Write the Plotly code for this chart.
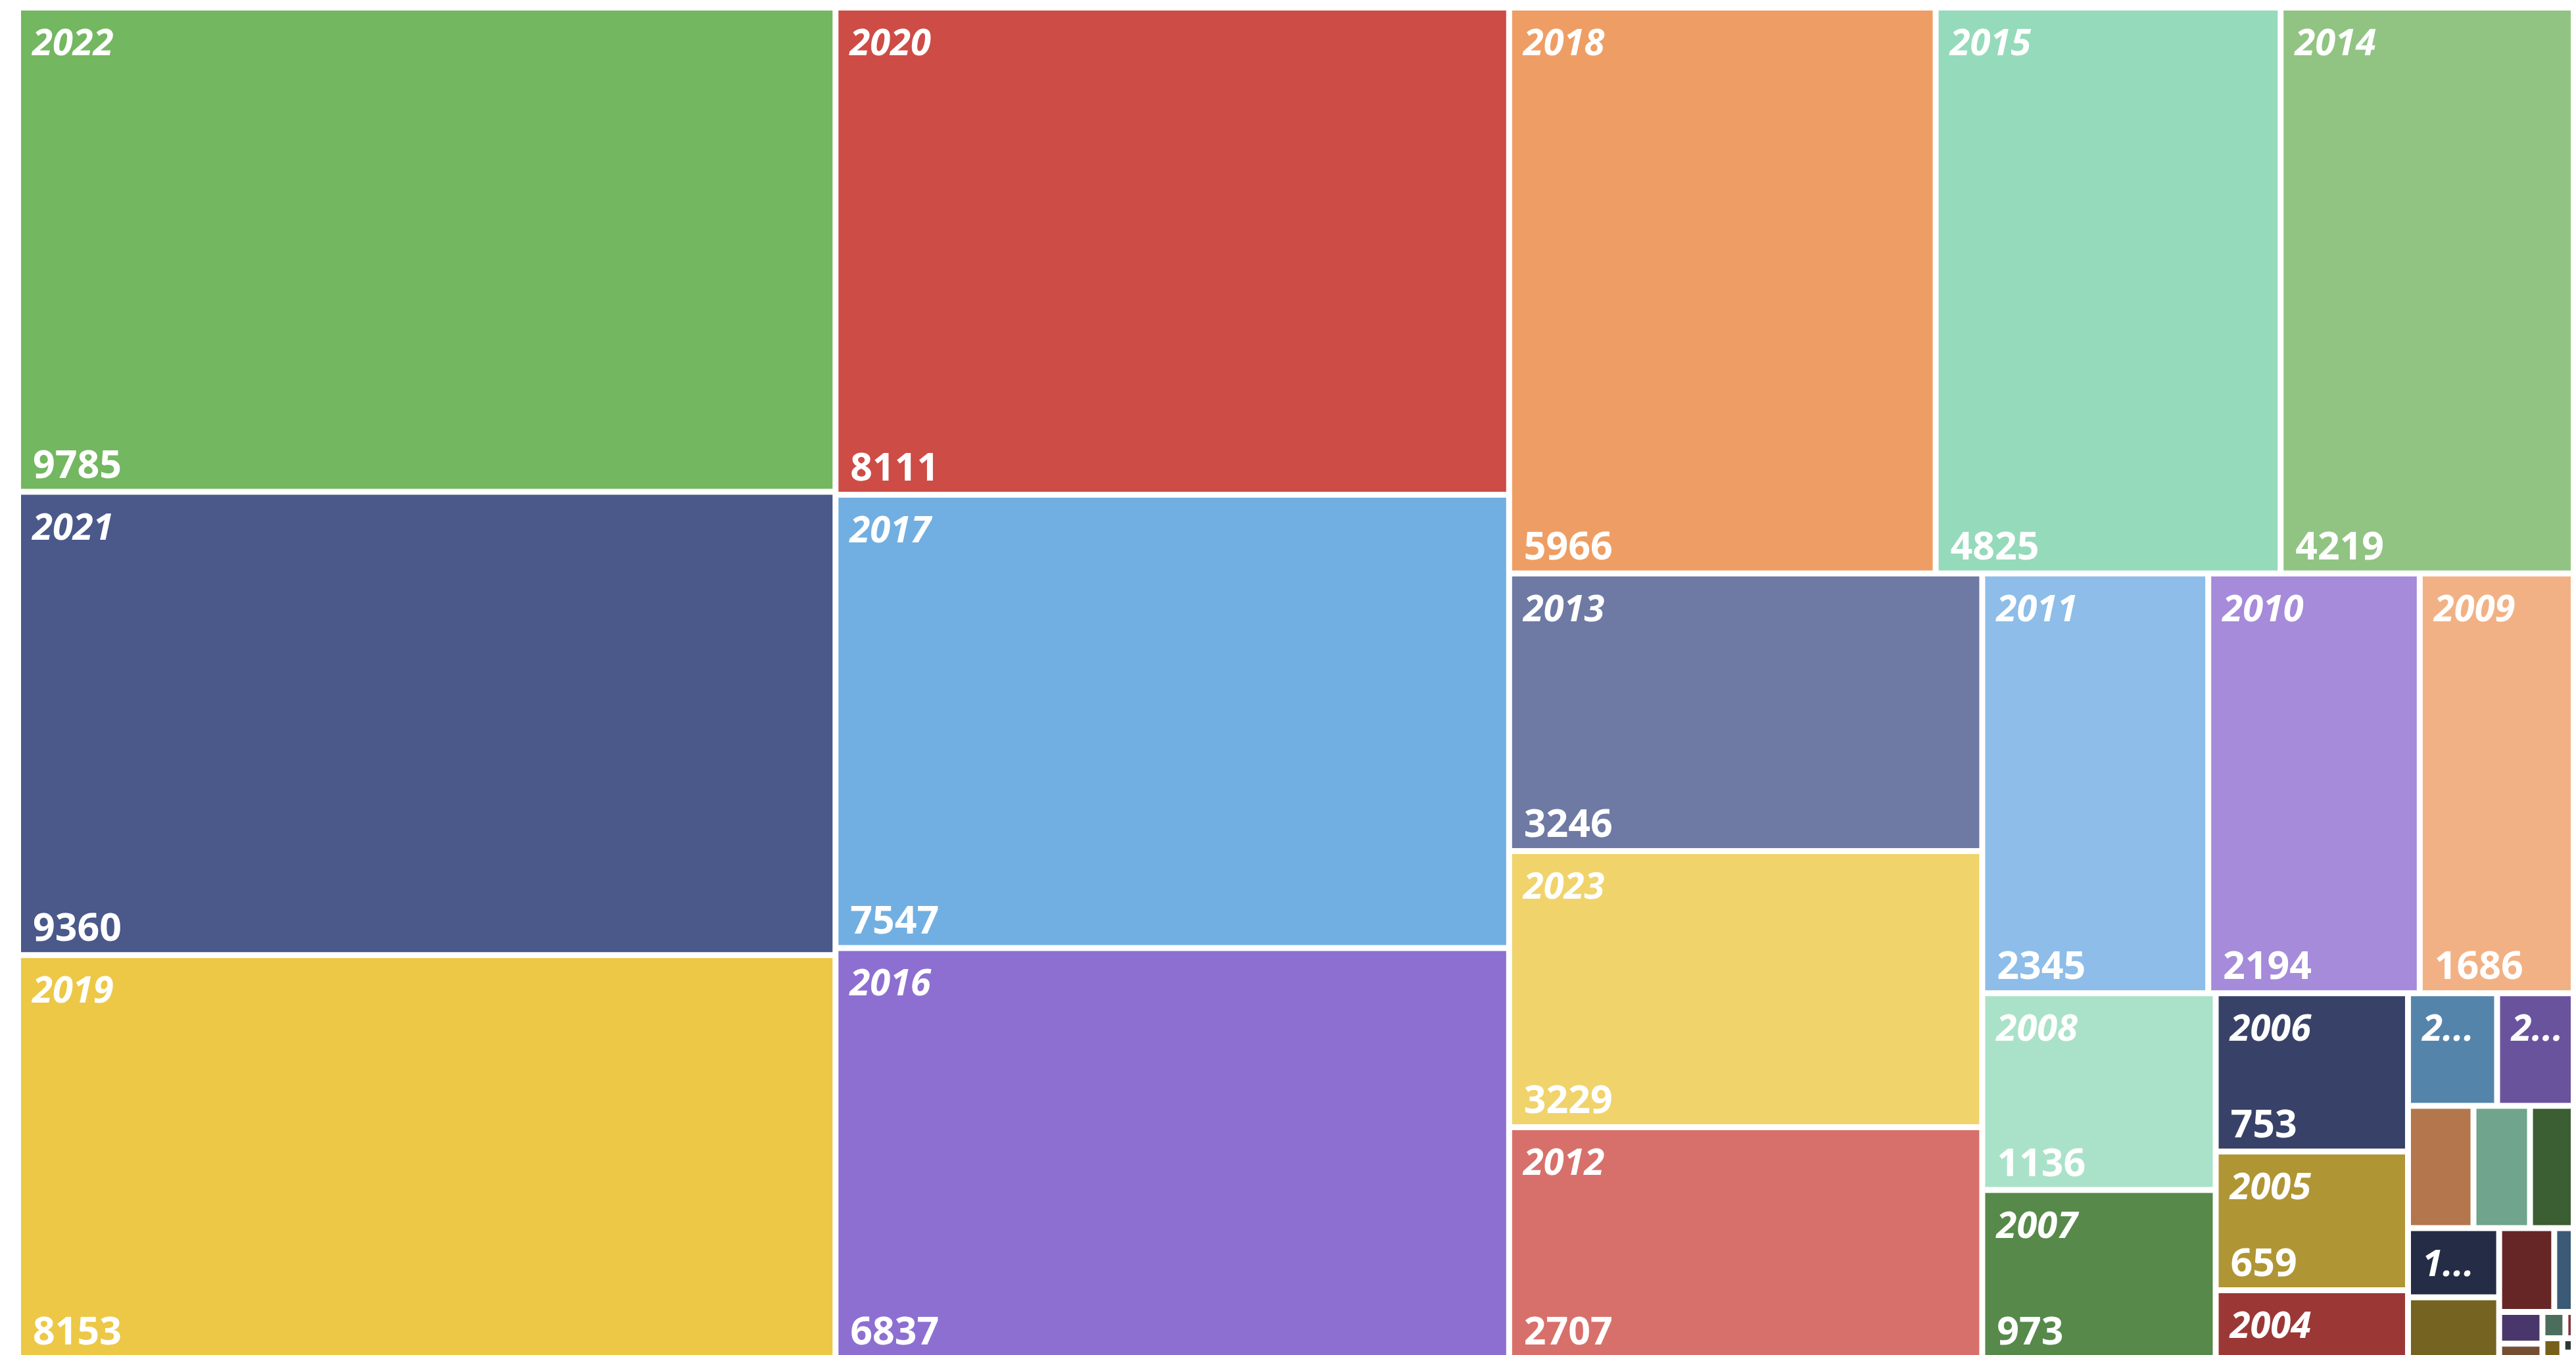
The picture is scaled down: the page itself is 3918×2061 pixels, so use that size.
import plotly.graph_objects as go

years = ["2022", "2021", "2019", "2020", "2017", "2016", "2018", "2015", "2014",
         "2013", "2023", "2012", "2011", "2010", "2009", "2008", "2007", "2006",
         "2005", "2004", "2003", "2002", "2001", "2000", "1999", "1998", "1997",
         "1996", "1995", "1994", "1993", "1992", "1991", "1990", "1989", "1988", "1987"]
values = [9785, 9360, 8153, 8111, 7547, 6837, 5966, 4825, 4219,
          3246, 3229, 2707, 2345, 2194, 1686, 1136, 973, 753,
          659, 325, 248, 237, 198, 171, 158, 156, 138,
          114, 58, 34, 16, 15, 11, 10, 7, 2, 1]
colors = ["#73B761", "#4A588A", "#ECC846", "#CD4C46", "#71AFE2", "#8D6FD1", "#EE9E64", "#95DABB", "#91C483",
          "#6E7AA3", "#F0D36B", "#D7706B", "#8DBDE8", "#A58BD9", "#F2B184", "#AAE2C9", "#56894A", "#384268",
          "#B09535", "#9B3836", "#5584AB", "#6A539D", "#B4764C", "#70A48C", "#3B5E33", "#242C46", "#756322",
          "#672626", "#3A5A76", "#49376B", "#754E33", "#4B6E5C", "#80343A", "#776019", "#2F3636", "#4B7080", "#7A4E35"]
label_text = ["2022", "2021", "2019", "2020", "2017", "2016", "2018", "2015", "2014",
              "2013", "2023", "2012", "2011", "2010", "2009", "2008", "2007", "2006",
              "2005", "2004", "2...", "2...", "", "", "", "1...", "",
              "", "", "", "", "", "", "", "", "", ""]
value_text = ["9785", "9360", "8153", "8111", "7547", "6837", "5966", "4825", "4219",
              "3246", "3229", "2707", "2345", "2194", "1686", "1136", "973", "753",
              "659", "", "", "", "", "", "", "", "",
              "", "", "", "", "", "", "", "", "", ""]

NB = "\u00a0"
FONT = "Open Sans"
LABEL_BASE = 50
LABEL_SIZE = 56
VALUE_SIZE = 59
LEFT = "<span style='font-size:10px'>" + NB + "</span>"
TOP = "<span style='font-size:3px'>" + NB + "</span><br>"


def label_html(t):
    if not t:
        return ""
    return TOP + LEFT + "<span style='font-size:%dpx'>%s%s</span>" % (LABEL_SIZE, NB, t)


def value_html(t):
    if not t:
        return ""
    return LEFT + NB + t


parents = [""] * len(years)
tiling = dict(packing="squarify", squarifyratio=0.5 * (1 + 5 ** 0.5))
pad0 = dict(t=0, l=0, r=0, b=0)

fig = go.Figure()
fig.add_trace(go.Treemap(
    labels=years, parents=parents, values=values,
    text=[label_html(t) for t in label_text],
    texttemplate="%{text}",
    textposition="top left",
    textfont=dict(family=FONT, size=LABEL_BASE, color="white", weight="bold", style="italic"),
    marker=dict(colors=colors, line=dict(color="white", width=6), pad=pad0),
    tiling=tiling,
    pathbar=dict(visible=False),
    sort=True,
    hoverinfo="label+value",
))
fig.add_trace(go.Treemap(
    labels=years, parents=parents, values=values,
    text=[value_html(t) for t in value_text],
    texttemplate="%{text}",
    textposition="bottom left",
    textfont=dict(family=FONT, size=VALUE_SIZE, color="white", weight="bold"),
    marker=dict(colors=["rgba(0,0,0,0)"] * len(years),
                line=dict(color="rgba(0,0,0,0)", width=6), pad=pad0),
    tiling=tiling,
    pathbar=dict(visible=False),
    sort=True,
    hoverinfo="skip",
))
fig.update_layout(
    width=3918, height=2061,
    margin=dict(l=21, r=0, t=5, b=4),
    paper_bgcolor="white",
    showlegend=False,
)
fig.write_html("out.html")
